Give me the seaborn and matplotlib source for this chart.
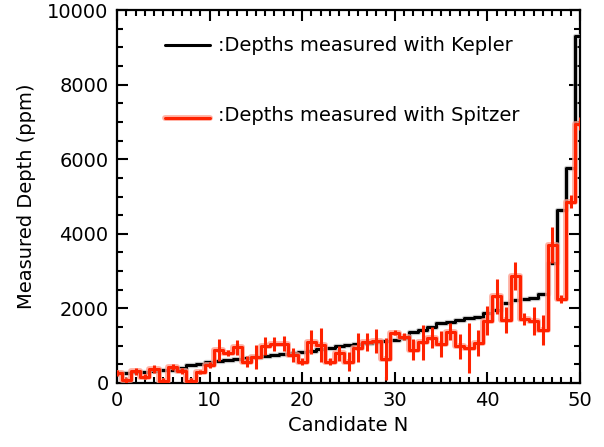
import numpy as np
import pandas as pd
import matplotlib
matplotlib.use("Agg")
import matplotlib.pyplot as plt
import matplotlib.patheffects as pe
from matplotlib.ticker import MultipleLocator
import seaborn as sns

candidate = list(range(51))
kepler_depth = [270, 280, 290, 300, 320, 340, 350, 400, 480, 500,
                560, 600, 620, 650, 680, 700, 720, 740, 770, 800,
                830, 860, 900, 940, 990, 1030, 1050, 1080, 1100, 1130,
                1160, 1200, 1376, 1420, 1490, 1600, 1645, 1700, 1750, 1780,
                1880, 1960, 2150, 2220, 2250, 2290, 2390, 3220, 4640, 5760,
                9300]
spitzer_depth = [280, 70, 310, 170, 380, 60, 430, 320, 60, 300,
                 480, 890, 800, 960, 570, 700, 990, 1050, 1050, 750,
                 570, 1100, 1020, 572, 800, 572, 950, 1100, 1120, 640,
                 1350, 1240, 895, 1090, 1210, 1050, 1370, 980, 930, 1080,
                 1670, 2330, 1690, 2870, 1710, 1660, 1420, 3700, 2260, 4860,
                 6950]
spitzer_err = [80, 60, 100, 60, 100, 80, 80, 70, 80, 60,
               80, 300, 80, 200, 150, 320, 250, 180, 200, 180,
               100, 320, 450, 100, 200, 250, 400, 250, 320, 560,
               60, 100, 280, 470, 280, 350, 230, 330, 670, 350,
               390, 470, 350, 370, 160, 380, 390, 480, 110, 180,
               170]

df = pd.DataFrame({"N": candidate, "kepler": kepler_depth,
                   "spitzer": spitzer_depth, "err": spitzer_err})

sns.set_style("ticks")
plt.rcParams["font.family"] = ["DejaVu Sans"]
for k in ["text.color", "axes.labelcolor", "xtick.color", "ytick.color", "axes.edgecolor"]:
    plt.rcParams[k] = "black"

RED = "#ff2200"
HALO = "#ffa090"
halo_red = [pe.Stroke(linewidth=4.2, foreground=HALO, alpha=0.8), pe.Normal()]

fig = plt.figure(figsize=(6.04, 4.47), dpi=100)
ax = fig.add_axes([117/604, 1-383/447, (580-117)/604, (383-10)/447])

sns.lineplot(data=df, x="N", y="kepler", ax=ax, color="black", lw=2.2,
             drawstyle="steps-mid", estimator=None, sort=False,
             path_effects=[pe.Stroke(linewidth=3.8, foreground="#aaaaaa", alpha=0.6), pe.Normal()],
             zorder=3)
sns.lineplot(data=df, x="N", y="spitzer", ax=ax, color=RED, lw=2.2,
             drawstyle="steps-mid", estimator=None, sort=False,
             path_effects=halo_red, zorder=4)
ax.vlines(df["N"], df["spitzer"] - df["err"], df["spitzer"] + df["err"],
          color=RED, lw=2.2, zorder=6)

ax.set_xlim(0, 50)
ax.set_ylim(0, 10000)
ax.xaxis.set_major_locator(MultipleLocator(10))
ax.xaxis.set_minor_locator(MultipleLocator(1))
ax.yaxis.set_major_locator(MultipleLocator(2000))
ax.yaxis.set_minor_locator(MultipleLocator(500))
ax.tick_params(which="both", direction="in", top=True, right=True, width=1.5, colors="black")
ax.tick_params(which="major", length=8, labelsize=14, pad=6)
ax.tick_params(which="minor", length=4)
for s in ax.spines.values():
    s.set_linewidth(1.6)
    s.set_color("black")

ax.set_xlabel("Candidate N", fontsize=14, labelpad=4)
ax.set_ylabel("Measured Depth (ppm)", fontsize=14, labelpad=8)

# legend annotations
ax.plot([0.104, 0.201], [0.906, 0.906], transform=ax.transAxes, color="black", lw=2.2)
ax.text(0.218, 0.906, ":Depths measured with Kepler", transform=ax.transAxes,
        fontsize=14, va="center", ha="left")
ax.plot([0.104, 0.201], [0.71, 0.71], transform=ax.transAxes, color=RED, lw=2.2,
        path_effects=halo_red)
ax.text(0.218, 0.716, ":Depths measured with Spitzer", transform=ax.transAxes,
        fontsize=14, va="center", ha="left")

fig.savefig("out.png", dpi=100)
